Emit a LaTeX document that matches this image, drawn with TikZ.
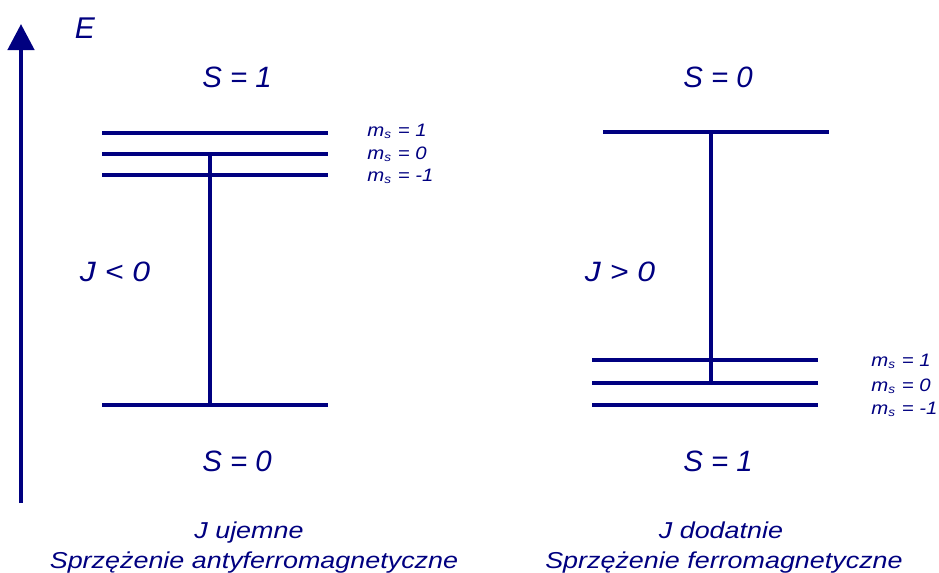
\documentclass[tikz,border=0pt]{standalone}
\usepackage{fontspec}
\setmainfont{Liberation Sans}
\newfontfamily\widefont[FakeStretch=1.17]{Liberation Sans}
\newfontfamily\msfont[FakeStretch=1.13]{Liberation Sans}
\newfontfamily\jfont[FakeStretch=1.14]{Liberation Sans}
\usetikzlibrary{arrows.meta, positioning}
\definecolor{ink}{RGB}{0, 0, 128}
\tikzset{
    level/.style={line width=2pt, ink},
    link/.style={line width=2pt, ink},
    axis/.style={-{Triangle[length=13pt, width=13pt]}, line width=2.3pt, ink},
    big/.style={anchor=base, text=ink, inner sep=0pt, font=\fontsize{14.7}{17}\selectfont\itshape},
    jlabel/.style={big, font=\jfont\fontsize{14}{17}\selectfont\itshape},
    msl/.style={anchor=base west, text=ink, inner sep=0pt, font=\msfont\fontsize{9}{11}\selectfont\itshape},
    caption/.style={anchor=base, text=ink, inner sep=0pt, font=\widefont\fontsize{11.5}{13}\selectfont\itshape}
}
\begin{document}
\begin{tikzpicture}[x=0.5pt, y=-0.5pt]
        \useasboundingbox (0,0) rectangle (939,573);
        % energy axis
        \coordinate (ebot) at (21,503);
        \coordinate (etop) at (21,24);
        \draw[axis] (ebot)--(etop);
        \node[big, font=\fontsize{15}{18}\selectfont\itshape] (E) at (85,39) {E};

        % antiferromagnetic side
        \coordinate (at1) at (102,133);  \coordinate (at1e) at (328,133);
        \coordinate (at0) at (102,154);  \coordinate (at0e) at (328,154);
        \coordinate (atm) at (102,175);  \coordinate (atme) at (328,175);
        \coordinate (as0) at (102,405);  \coordinate (as0e) at (328,405);
        \draw[level] (at1)--(at1e);
        \draw[level] (at0)--(at0e);
        \draw[level] (atm)--(atme);
        \draw[level] (as0)--(as0e);
        \coordinate (aup) at (210,154);
        \coordinate (adn) at (210,405);
        \draw[link] (aup)--(adn);
        \node[big] (aS1) at (237,87) {S = 1};
        \node[big] (aS0) at (237,471) {S = 0};
        \node[jlabel] (aJ) at (115,281) {J < 0};
        \node[msl] (am1) at (367,136) {m\textsubscript{s} = 1};
        \node[msl] (am0) at (367,159) {m\textsubscript{s} = 0};
        \node[msl] (amm) at (367,181) {m\textsubscript{s} = -1};
        \node[caption] (acap1) at (249,538) {J ujemne};
        \node[caption] (acap2) at (254,568) {Sprzężenie antyferromagnetyczne};

        % ferromagnetic side
        \coordinate (fs0) at (603,132);  \coordinate (fs0e) at (829,132);
        \coordinate (ft1) at (592,360);  \coordinate (ft1e) at (818,360);
        \coordinate (ft0) at (592,383);  \coordinate (ft0e) at (818,383);
        \coordinate (ftm) at (592,405);  \coordinate (ftme) at (818,405);
        \draw[level] (fs0)--(fs0e);
        \draw[level] (ft1)--(ft1e);
        \draw[level] (ft0)--(ft0e);
        \draw[level] (ftm)--(ftme);
        \coordinate (fup) at (711,132);
        \coordinate (fdn) at (711,383);
        \draw[link] (fup)--(fdn);
        \node[big] (fS0) at (718,87) {S = 0};
        \node[big] (fS1) at (718,471) {S = 1};
        \node[jlabel] (fJ) at (620,281) {J > 0};
        \node[msl] (fm1) at (871,366) {m\textsubscript{s} = 1};
        \node[msl] (fm0) at (871,391) {m\textsubscript{s} = 0};
        \node[msl] (fmm) at (871,414) {m\textsubscript{s} = -1};
        \node[caption] (fcap1) at (721,538) {J dodatnie};
        \node[caption] (fcap2) at (724,568) {Sprzężenie ferromagnetyczne};
    \end{tikzpicture}
\end{document}
